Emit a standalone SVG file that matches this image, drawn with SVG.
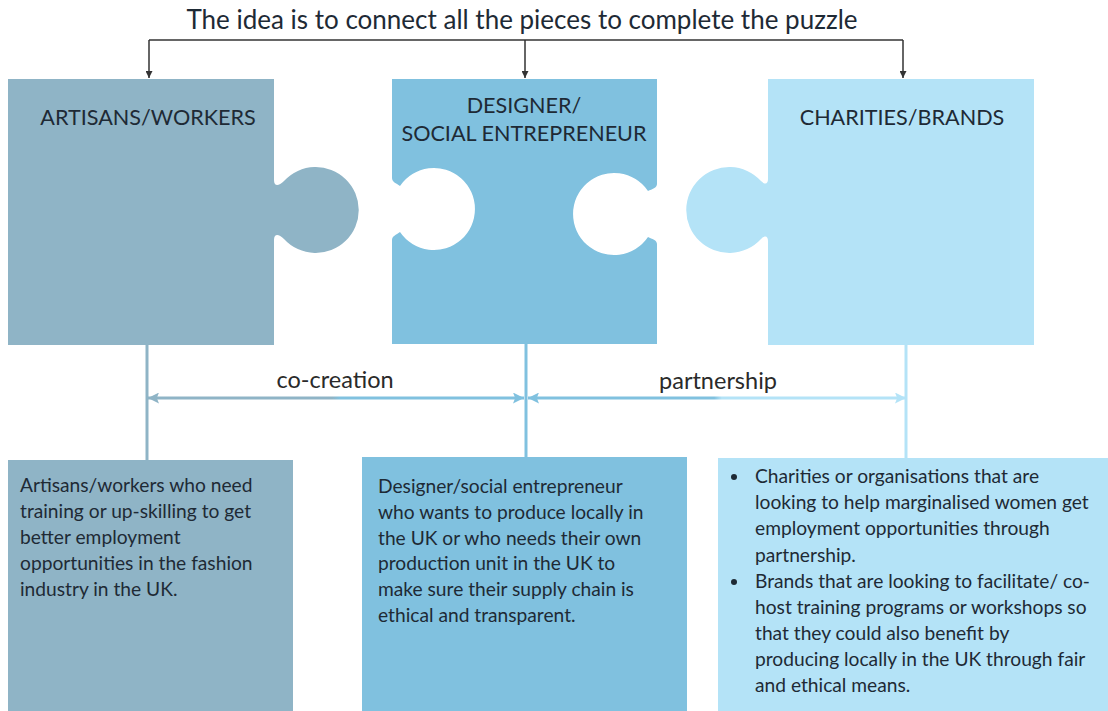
<svg xmlns="http://www.w3.org/2000/svg" width="1108" height="711" viewBox="0 0 1108 711">
  <defs>
    <style>
      .t { font-family: Lato, "Open Sans", "Liberation Sans", sans-serif; fill: #1e2a35; }
      .title { font-size: 26px; text-anchor: middle; }
      .head { font-size: 21.6px; text-anchor: middle; }
      .lbl { font-size: 23.5px; text-anchor: middle; fill: #2a2a2a; }
      .body { font-size: 19.2px; }
      .cA { fill: #8fb4c6; }
      .cB { fill: #80c1df; }
      .cC { fill: #b4e3f7; }
      .blk { fill: none; stroke: #333; stroke-width: 1.5; }
    </style>
    <marker id="blkHead" viewBox="0 0 10 10" refX="10" refY="5" markerWidth="7" markerHeight="7" markerUnits="userSpaceOnUse" orient="auto">
      <path d="M0,0 L10,5 L0,10 z" fill="#333"/>
    </marker>
    <marker id="hA" viewBox="0 0 10 10" refX="10" refY="5" markerWidth="11" markerHeight="11" markerUnits="userSpaceOnUse" orient="auto-start-reverse">
      <path d="M0,0 L10,5 L0,10 L2,5 z" fill="#8fb4c6"/>
    </marker>
    <marker id="hB" viewBox="0 0 10 10" refX="10" refY="5" markerWidth="11" markerHeight="11" markerUnits="userSpaceOnUse" orient="auto-start-reverse">
      <path d="M0,0 L10,5 L0,10 L2,5 z" fill="#80c1df"/>
    </marker>
    <marker id="hC" viewBox="0 0 10 10" refX="10" refY="5" markerWidth="11" markerHeight="11" markerUnits="userSpaceOnUse" orient="auto-start-reverse">
      <path d="M0,0 L10,5 L0,10 L2,5 z" fill="#b4e3f7"/>
    </marker>
    <linearGradient id="gAB" gradientUnits="userSpaceOnUse" x1="147" y1="0" x2="525" y2="0">
      <stop offset="0.49" stop-color="#8fb4c6"/>
      <stop offset="0.51" stop-color="#80c1df"/>
    </linearGradient>
    <linearGradient id="gBC" gradientUnits="userSpaceOnUse" x1="529" y1="0" x2="907" y2="0">
      <stop offset="0.49" stop-color="#80c1df"/>
      <stop offset="0.51" stop-color="#b4e3f7"/>
    </linearGradient>
  </defs>

  <rect width="1108" height="711" fill="#ffffff"/>

  <text class="t title" x="522" y="29">The idea is to connect all the pieces to complete the puzzle</text>

  <g id="connectors">
    <path class="blk" d="M149,40 H903"/>
    <path class="blk" d="M149,40 V78" marker-end="url(#blkHead)"/>
    <path class="blk" d="M525,40 V78" marker-end="url(#blkHead)"/>
    <path class="blk" d="M903,40 V78" marker-end="url(#blkHead)"/>

    <line x1="147" y1="345" x2="147" y2="460" stroke="#8fb4c6" stroke-width="3"/>
    <line x1="526" y1="344" x2="526" y2="457" stroke="#80c1df" stroke-width="3"/>
    <line x1="906" y1="345" x2="906" y2="458" stroke="#b4e3f7" stroke-width="3"/>

    <path d="M148,398 H524" stroke="url(#gAB)" stroke-width="3" fill="none" marker-start="url(#hA)" marker-end="url(#hB)"/>
    <path d="M528,398 H906" stroke="url(#gBC)" stroke-width="3" fill="none" marker-start="url(#hB)" marker-end="url(#hC)"/>
    <text class="t lbl" x="335" y="388">co-creation</text>
    <text class="t lbl" x="718" y="389">partnership</text>
  </g>

  <g id="piece-artisans">
    <path class="cA" d="M8,79 H274 V180 C274,186 278,187 284,181 A43,43 0 1 1 284,239 C278,233 274,234 274,240 V345 H8 Z"/>
    <text class="t head" x="148" y="125">ARTISANS/WORKERS</text>
  </g>

  <g id="piece-designer">
    <path class="cB" d="M392,79 H657 V184 C657,188 652,189 648,191 A41,41 0 1 0 648,237 C652,239 657,240 657,244 V344 H392 V240 C392,236 396,235 400,232 A41,41 0 1 0 400,186 C396,183 392,182 392,178 Z"/>
    <text class="t head" x="524" y="113">DESIGNER/</text>
    <text class="t head" x="524" y="141">SOCIAL ENTREPRENEUR</text>
  </g>

  <g id="piece-charities">
    <path class="cC" d="M768,79 H1034 V345 H768 V241 C768,236 765,235 761,239 A43,43 0 1 1 761,181 C765,185 768,184 768,179 Z"/>
    <text class="t head" x="902" y="125">CHARITIES/BRANDS</text>
  </g>

  <g id="box-artisans">
    <rect class="cA" x="8" y="460" width="285" height="251"/>
    <text class="t body">
      <tspan x="20" y="492">Artisans/workers who need</tspan>
      <tspan x="20" y="518">training or up-skilling to get</tspan>
      <tspan x="20" y="544">better employment</tspan>
      <tspan x="20" y="570">opportunities in the fashion</tspan>
      <tspan x="20" y="596">industry in the UK.</tspan>
    </text>
  </g>

  <g id="box-designer">
    <rect class="cB" x="362" y="457" width="325" height="254"/>
    <text class="t body">
      <tspan x="378" y="493">Designer/social entrepreneur</tspan>
      <tspan x="378" y="519">who wants to produce locally in</tspan>
      <tspan x="378" y="545">the UK or who needs their own</tspan>
      <tspan x="378" y="570">production unit in the UK to</tspan>
      <tspan x="378" y="596">make sure their supply chain is</tspan>
      <tspan x="378" y="622">ethical and transparent.</tspan>
    </text>
  </g>

  <g id="box-charities">
    <rect class="cC" x="718" y="458" width="390" height="253"/>
    <circle cx="734" cy="477" r="3" fill="#1e2a35"/>
    <circle cx="734" cy="582" r="3" fill="#1e2a35"/>
    <text class="t body">
      <tspan x="755" y="483">Charities or organisations that are</tspan>
      <tspan x="755" y="509">looking to help marginalised women get</tspan>
      <tspan x="755" y="535">employment opportunities through</tspan>
      <tspan x="755" y="562">partnership.</tspan>
      <tspan x="755" y="588">Brands that are looking to facilitate/ co-</tspan>
      <tspan x="755" y="614">host training programs or workshops so</tspan>
      <tspan x="755" y="640">that they could also benefit by</tspan>
      <tspan x="755" y="666">producing locally in the UK through fair</tspan>
      <tspan x="755" y="692">and ethical means.</tspan>
    </text>
  </g>
</svg>
